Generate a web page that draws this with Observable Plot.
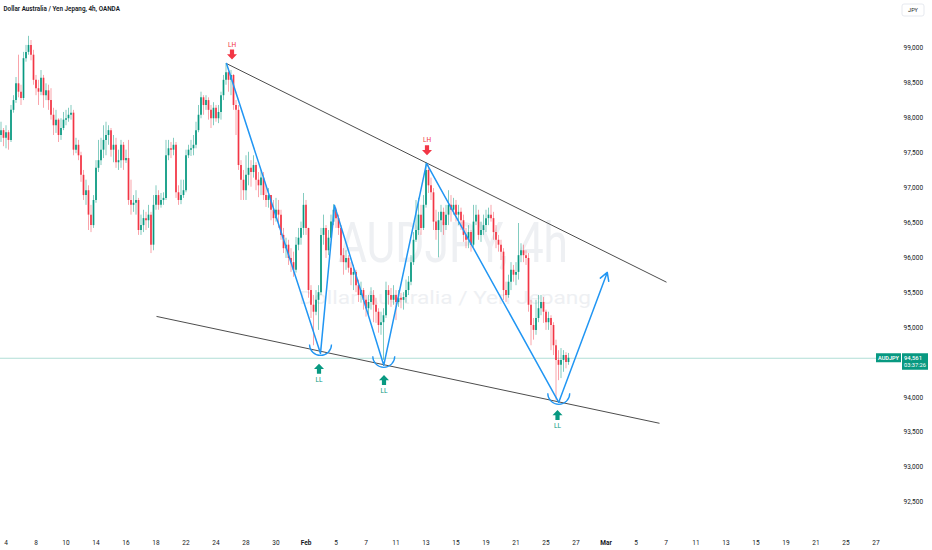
<!DOCTYPE html>
<html>
<head>
<meta charset="utf-8">
<script src="https://cdn.jsdelivr.net/npm/d3@7"></script>
<script src="https://cdn.jsdelivr.net/npm/@observablehq/plot@0.6"></script>
<style>
  html, body { margin: 0; padding: 0; background: #ffffff; }
  #chart { width: 932px; height: 550px; overflow: hidden; }
</style>
</head>
<body>
<div id="chart"></div>
<script>
// ---------- DATA (AUDJPY 4h candles) ----------
const firstOpen = 97.75;
const closes = [
97.82,97.71,97.79,97.68,98.11,98.25,98.49,98.37,98.28,98.85,
98.94,99.04,98.90,98.54,98.42,98.37,98.57,98.32,98.39,98.25,
98.04,97.89,97.97,97.75,97.85,97.97,97.99,98.04,98.07,97.54,
97.61,97.46,97.18,96.89,96.96,96.61,96.46,96.82,97.28,97.39,
97.54,97.68,97.75,97.82,97.54,97.61,97.36,97.39,97.61,97.39,
97.42,96.82,96.75,96.78,96.82,96.39,96.46,96.56,96.53,96.61,
96.18,96.75,96.89,96.75,96.82,96.85,97.46,97.56,97.54,97.61,
96.93,96.82,96.89,96.96,97.46,97.54,97.56,97.61,97.82,98.04,
98.29,98.18,98.25,98.11,97.99,98.14,97.99,98.08,98.32,98.54,
98.65,98.54,98.61,98.18,98.11,97.32,97.11,96.96,97.18,97.28,
97.22,97.32,97.11,97.03,97.14,96.89,96.82,96.89,96.68,96.56,
96.68,96.61,96.32,96.13,96.18,95.99,95.93,95.82,96.18,96.28,
96.42,96.75,96.42,95.53,95.32,95.22,95.39,95.50,96.32,96.42,
96.10,96.28,96.51,96.68,96.56,96.42,96.03,95.93,95.99,95.85,
95.75,95.79,95.60,95.46,95.53,95.39,95.27,95.36,95.46,95.32,
95.22,95.03,95.07,95.17,95.53,95.46,95.39,95.46,95.36,95.42,
95.39,95.43,95.53,95.65,95.93,96.25,96.39,96.61,96.42,96.75,
97.25,97.03,96.93,96.51,96.39,96.53,96.65,96.46,96.61,96.75,
96.68,96.75,96.61,96.65,96.53,96.32,96.25,96.36,96.18,96.51,
96.61,96.32,96.39,96.46,96.56,96.61,96.56,96.36,96.25,96.18,
96.08,95.53,95.46,95.65,95.82,95.75,95.79,96.03,96.10,96.03,
95.99,95.32,95.03,94.96,95.13,95.27,95.36,95.22,95.07,95.13,
95.03,94.74,94.53,94.46,94.53,94.60,94.50,94.561
];
const highs = [
97.94,97.85,97.89,97.82,98.18,98.32,98.58,98.90,98.47,98.94,
99.04,99.17,99.11,98.97,98.61,98.54,98.68,98.61,98.49,98.47,
98.42,98.14,98.11,97.99,97.99,98.08,98.11,98.14,98.18,98.11,
97.71,97.68,97.51,97.25,97.11,97.03,96.75,96.89,97.39,97.68,
97.71,97.89,97.94,97.89,97.85,97.75,97.71,97.54,97.68,97.65,
97.54,97.68,97.11,96.89,96.96,96.85,96.61,96.68,96.65,96.75,
96.65,96.89,97.03,96.96,96.92,96.93,97.68,97.68,97.65,97.71,
97.65,97.03,97.11,97.11,97.54,97.61,97.68,97.75,97.94,98.18,
98.37,98.32,98.32,98.29,98.18,98.22,98.18,98.18,98.37,98.61,
98.78,98.71,98.68,98.62,98.25,98.18,97.39,97.25,97.46,97.51,
97.39,97.46,97.36,97.22,97.25,97.22,97.03,96.99,96.89,96.82,
96.85,96.82,96.68,96.42,96.28,96.25,96.13,96.08,96.29,96.42,
96.51,96.92,96.82,96.36,95.60,95.46,95.53,95.60,96.42,96.61,
96.46,96.39,96.61,96.76,96.71,96.61,96.46,96.13,96.10,96.03,
95.93,95.89,95.82,95.68,95.65,95.56,95.46,95.46,95.57,95.53,
95.42,95.27,95.22,95.27,95.65,95.60,95.56,95.60,95.53,95.53,
95.49,95.50,95.68,95.73,96.03,96.36,96.82,96.85,96.75,96.89,
97.36,97.32,97.14,96.99,96.68,96.65,96.75,96.71,96.75,96.96,
96.89,96.85,96.82,96.75,96.71,96.61,96.42,96.46,96.39,96.75,
96.75,96.68,96.51,96.61,96.68,96.71,96.75,96.65,96.46,96.32,
96.25,96.13,95.65,95.75,95.93,95.89,95.93,96.49,96.20,96.18,
96.10,96.06,95.39,95.13,95.39,95.46,95.46,95.43,95.25,95.22,
95.17,95.07,94.82,94.67,94.70,94.67,94.64,94.63
];
const lows = [
97.65,97.59,97.56,97.54,97.65,98.07,98.21,98.29,98.18,98.25,
98.80,98.90,98.82,98.47,98.32,98.18,98.32,98.14,98.25,98.11,
97.97,97.75,97.78,97.65,97.68,97.82,97.89,97.94,97.97,97.46,
97.49,97.39,97.08,96.82,96.75,96.39,96.36,96.42,96.78,97.22,
97.32,97.42,97.46,97.61,97.44,97.36,97.28,97.25,97.28,97.25,
97.35,96.75,96.61,96.65,96.61,96.32,96.32,96.36,96.39,96.42,
96.06,96.10,96.68,96.68,96.71,96.75,96.82,97.39,97.42,97.46,
96.85,96.75,96.76,96.85,96.93,97.42,97.45,97.46,97.56,97.79,
97.99,98.04,98.11,97.97,97.85,97.89,97.94,97.92,97.97,98.25,
98.47,98.37,98.32,98.11,97.75,97.25,96.82,96.82,96.82,97.03,
97.01,97.14,96.96,96.86,96.89,96.82,96.72,96.71,96.53,96.46,
96.51,96.42,96.25,96.06,95.99,95.89,95.79,95.72,95.78,96.10,
96.18,96.32,96.32,95.42,95.13,94.74,95.17,94.96,95.46,96.18,
95.99,96.03,96.25,96.46,96.42,96.32,95.93,95.75,95.82,95.78,
95.60,95.53,95.50,95.36,95.35,95.25,95.15,95.17,95.25,95.07,
95.06,94.92,94.89,94.53,95.13,95.32,95.29,95.32,95.10,95.29,
95.27,95.25,95.35,95.46,95.60,95.89,96.22,96.32,96.32,96.39,
96.71,96.92,96.82,96.39,96.25,96.00,96.36,96.32,96.39,96.46,
96.51,96.61,96.51,96.46,96.39,96.22,96.13,96.13,96.08,96.15,
96.46,96.25,96.22,96.32,96.36,96.46,96.51,96.25,96.13,96.08,
95.96,95.39,95.36,95.42,95.53,95.65,95.60,95.68,95.93,95.93,
95.89,95.22,94.74,94.82,94.89,95.07,95.17,95.06,94.96,94.96,
94.67,94.60,93.96,94.24,94.27,94.36,94.41,94.46
];

// time axis (candle index of each labelled day)
const tickIndex = [2,14,26,38,50,62,74,86,98,110,122,134,146,158,170,182,194,206,218,230,242,254,266,278,290,302,314,326,338,350];
const tickLabel = ["4","8","10","14","16","18","22","24","28","30","Feb","5","7","11","13","15","19","21","25","27","Mar","5","7","11","13","15","19","21","25","27"];
const monthLabels = ["Feb","Mar"];
// price scale labels (94,500 is hidden behind the last-price label in the reference)
const priceTicks = [92.5,93,93.5,94,95,95.5,96,96.5,97,97.5,98,98.5,99];

// drawings: zigzag swing points (candle index, price)
const zigIdx   = [90.2, 127.8, 133.4, 153.1, 170.2, 223.1];
const zigPrice = [98.78, 94.63, 96.75, 94.46, 97.35, 93.93];
const projIdx = 242.5, projPrice = 95.79;
// trend lines
const trendX1 = [90.2, 62.2], trendY1 = [98.78, 95.16];
const trendX2 = [266.2, 263.4], trendY2 = [95.65, 93.63];
// LH / LL markers
const lhIdx = [92.4, 170.4], lhPrice = [98.91, 97.54];
const llIdx = [127.2, 153.2, 222.6], llPrice = [94.41, 94.25, 93.75];
const arcIdx = [127.8, 153.1, 223.1], arcPrice = [94.63, 94.46, 93.93];

const lastPrice = closes[closes.length - 1];

// ---------- BUILD ----------
const candles = closes.map((c, i) => {
  const o = i === 0 ? firstOpen : closes[i - 1];
  return {i, open: o, close: c, high: Math.max(highs[i], o, c), low: Math.min(lows[i], o, c)};
});
const up = candles.filter(d => d.close >= d.open);
const down = candles.filter(d => d.close < d.open);
const zig = zigIdx.map((x, k) => ({x, y: zigPrice[k]}));
const proj = [{x1: zigIdx[zigIdx.length - 1], y1: zigPrice[zigPrice.length - 1], x2: projIdx, y2: projPrice}];
const trends = trendX1.map((x1, k) => ({x1, y1: trendY1[k], x2: trendX2[k], y2: trendY2[k]}));
const lh = lhIdx.map((x, k) => ({x, y: lhPrice[k]}));
const ll = llIdx.map((x, k) => ({x, y: llPrice[k]}));
const arcs = arcIdx.map((x, k) => ({x, y: arcPrice[k]}));

const UP = "#089981", DOWN = "#F23645", BLUE = "#2196F3";

const arrowDown = {draw(ctx, size) {
  const r = Math.sqrt(size / Math.PI), w = r * 0.42, m = -0.05 * r;
  ctx.moveTo(-w, -r); ctx.lineTo(w, -r); ctx.lineTo(w, m); ctx.lineTo(r, m);
  ctx.lineTo(0, r); ctx.lineTo(-r, m); ctx.lineTo(-w, m); ctx.closePath();
}};
const arrowUp = {draw(ctx, size) {
  const r = Math.sqrt(size / Math.PI), w = r * 0.42, m = 0.05 * r;
  ctx.moveTo(-w, r); ctx.lineTo(w, r); ctx.lineTo(w, m); ctx.lineTo(r, m);
  ctx.lineTo(0, -r); ctx.lineTo(-r, m); ctx.lineTo(-w, m); ctx.closePath();
}};
const arcSym = {draw(ctx, size) {
  const r = Math.sqrt(size / Math.PI);
  ctx.moveTo(r, 0); ctx.arc(0, 0, r, 0, Math.PI);
}};

const fmtPrice = d => d.toFixed(3).replace(".", ",");
const lab = d => tickLabel[tickIndex.indexOf(d)];
const dayTicks = tickIndex.filter((d, k) => !monthLabels.includes(tickLabel[k]));
const monTicks = tickIndex.filter((d, k) => monthLabels.includes(tickLabel[k]));

const chart = Plot.plot({
  width: 932, height: 550,
  marginLeft: 0, marginRight: 35, marginTop: 0, marginBottom: 20,
  style: {fontFamily: "Roboto, 'Noto Sans', sans-serif", fontSize: "6.5px", color: "#131722", background: "#ffffff"},
  x: {type: "linear", domain: [-0.2, 358.6], axis: null},
  y: {domain: [92.095, 99.683], axis: null},
  marks: [
    Plot.text(["AUDJPY, 4h"], {frameAnchor: "middle", dx: 4, dy: -21, fontSize: 56, fill: "#eef0f3"}),
    Plot.text(["Dollar Australia / Yen Jepang"], {frameAnchor: "middle", dx: -4, dy: 32, fontSize: 19, fill: "#eef0f3"}),
    Plot.text(["Dollar Australia / Yen Jepang, 4h, OANDA"], {frameAnchor: "top-left", dx: 3, dy: 8.5, lineAnchor: "middle", textAnchor: "start", fontSize: 6.3, fontWeight: 600, fill: "#131722"}),
    Plot.ruleY([lastPrice], {stroke: UP, strokeOpacity: 0.4, strokeWidth: 0.8}),
    Plot.axisY({anchor: "right", ticks: priceTicks, tickFormat: fmtPrice, tickSize: 0, tickPadding: 6, fill: "#131722"}),
    Plot.axisX({anchor: "bottom", ticks: dayTicks, tickFormat: lab, tickSize: 0, tickPadding: 10, fill: "#131722"}),
    Plot.axisX({anchor: "bottom", ticks: monTicks, tickFormat: lab, tickSize: 0, tickPadding: 10, fill: "#131722", fontWeight: "bold"}),
    // wicks
    Plot.ruleX(up, {x: "i", y1: "low", y2: "high", stroke: UP, strokeOpacity: 0.5, strokeWidth: 1}),
    Plot.ruleX(down, {x: "i", y1: "low", y2: "high", stroke: DOWN, strokeOpacity: 0.45, strokeWidth: 1}),
    // bodies
    Plot.ruleX(up, {x: "i", y1: "open", y2: "close", stroke: UP, strokeWidth: 1.7}),
    Plot.ruleX(down, {x: "i", y1: "open", y2: "close", stroke: DOWN, strokeWidth: 1.7}),
    // trend lines
    Plot.link(trends, {x1: "x1", y1: "y1", x2: "x2", y2: "y2", stroke: "#4d4d4d", strokeWidth: 1}),
    // zigzag + projection
    Plot.line(zig, {x: "x", y: "y", stroke: BLUE, strokeWidth: 1.5}),
    Plot.arrow(proj, {x1: "x1", y1: "y1", x2: "x2", y2: "y2", stroke: BLUE, strokeWidth: 1.5, headLength: 9, headAngle: 60}),
    Plot.dot(arcs, {x: "x", y: "y", r: 11, dy: -9, symbol: arcSym, fill: "none", stroke: BLUE, strokeWidth: 1.3}),
    // markers
    Plot.dot(lh, {x: "x", y: "y", r: 5, symbol: arrowDown, fill: DOWN, stroke: "none"}),
    Plot.text(lh, {x: "x", y: "y", text: () => "LH", dy: -10, fill: DOWN, fontSize: 6.5}),
    Plot.dot(ll, {x: "x", y: "y", r: 5, symbol: arrowUp, fill: UP, stroke: "none"}),
    Plot.text(ll, {x: "x", y: "y", text: () => "LL", dy: 11, fill: UP, fontSize: 6.5})
  ]
});

const svg = d3.select(chart);
const fitText = (str, len) => svg.selectAll("text").filter(function () { return this.textContent === str; })
  .attr("textLength", len).attr("lengthAdjust", "spacingAndGlyphs");
fitText("AUDJPY, 4h", 230);
fitText("Dollar Australia / Yen Jepang", 292);

// price-scale chrome: last price labels (y from the y scale) and currency box
const y0 = chart.scale("y").apply(lastPrice);
const g = svg.append("g").attr("font-family", "Roboto, 'Noto Sans', sans-serif").attr("text-anchor", "start");
g.append("rect").attr("x", 876).attr("y", y0 - 4.5).attr("width", 25).attr("height", 9).attr("fill", UP);
g.append("text").attr("x", 888.5).attr("y", y0).attr("dy", "0.35em").attr("text-anchor", "middle")
  .attr("fill", "#fff").attr("font-size", 5).attr("font-weight", 600)
  .attr("textLength", 21).attr("lengthAdjust", "spacingAndGlyphs").text("AUDJPY");
g.append("rect").attr("x", 902).attr("y", y0 - 4.5).attr("width", 26).attr("height", 16.5).attr("fill", UP);
g.append("text").attr("x", 904).attr("y", y0 - 0.3).attr("dy", "0.35em").attr("text-anchor", "start")
  .attr("fill", "#fff").attr("font-size", 6).attr("font-weight", 500)
  .attr("textLength", 18).attr("lengthAdjust", "spacingAndGlyphs").text(fmtPrice(lastPrice));
g.append("text").attr("x", 904).attr("y", y0 + 7.2).attr("dy", "0.35em").attr("text-anchor", "start")
  .attr("fill", "#fff").attr("font-size", 4.8)
  .attr("textLength", 22).attr("lengthAdjust", "spacingAndGlyphs").text("03:37:26");
g.append("rect").attr("x", 902).attr("y", 4).attr("width", 22).attr("height", 12).attr("rx", 2)
  .attr("fill", "#fff").attr("stroke", "#e0e3eb").attr("stroke-width", 0.8);
g.append("text").attr("x", 913).attr("y", 10).attr("dy", "0.35em").attr("text-anchor", "middle")
  .attr("fill", "#131722").attr("font-size", 5.5).text("JPY");

document.getElementById("chart").appendChild(chart);
</script>
</body>
</html>
